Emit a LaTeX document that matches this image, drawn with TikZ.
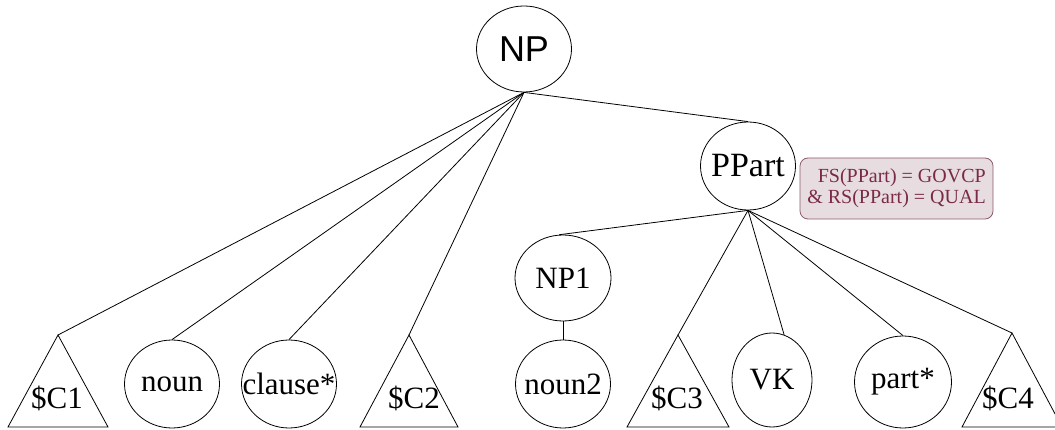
\documentclass[tikz,border=0pt]{standalone}
\usepackage{fontspec}
\setmainfont{Liberation Serif}
\newfontfamily\labelsans{Liberation Sans}
\usetikzlibrary{shapes.geometric}
\definecolor{notefill}{HTML}{E7DDE0}
\definecolor{noteline}{HTML}{8C5A6B}
\definecolor{notetext}{HTML}{7A2A48}
% zero-width text box, so a long label never widens its ellipse
\newcommand{\ztext}[1]{\makebox[0pt][c]{#1}}
\tikzset{
  cat/.style={draw, ellipse, line width=0.8pt, inner sep=0pt,
              minimum width=95pt, minimum height=88pt,
              font=\fontsize{31}{31}\selectfont},
  branch/.style={line width=0.8pt},
  tri/.style={draw, line width=0.8pt, line join=miter},
  trilabel/.style={inner sep=0pt, font=\fontsize{31}{31}\selectfont},
  note/.style={draw=noteline, fill=notefill, rounded corners=8pt, line width=0.8pt,
               text=notetext, align=right, inner sep=4pt,
               minimum width=193pt, minimum height=61pt,
               font=\fontsize{20}{21}\selectfont}
}
\begin{document}
\begin{tikzpicture}[x=1pt,y=-1pt]
\useasboundingbox (0,0) rectangle (1055,430);

% phrase nodes
\node[cat, minimum height=86pt, font=\labelsans\fontsize{36}{36}\selectfont] (np) at (524,49) {\ztext{NP}};
\node[cat, font=\fontsize{34}{34}\selectfont] (ppart) at (748,166) {\ztext{PPart}};
\node[cat, minimum width=96pt, minimum height=86pt] (np1) at (563,278) {\ztext{NP1}};

% leaves
\node[cat] (noun) at (172,384) {\ztext{noun}};
\node[cat] (clause) at (289,384) {\ztext{clause*}};
\node[cat] (noun2) at (563,384) {\ztext{noun2}};
\node[cat, minimum width=80pt, minimum height=94pt] (vk) at (772,380) {\ztext{VK}};
\node[cat, minimum width=97pt, minimum height=92pt] (part) at (903,382) {\ztext{part*}};

% constituent triangles: apex coordinate, outline and label
\coordinate (c1) at (58,335);
\coordinate (c2) at (409,335);
\coordinate (c3) at (678,335);
\coordinate (c4) at (1012,333);
\draw[tri] (c1) -- ++(-50,92) -- ++(100,0) -- cycle;
\draw[tri] (c2) -- ++(-49,92) -- ++(98,0) -- cycle;
\draw[tri] (c3) -- ++(-51,92) -- ++(102,0) -- cycle;
\draw[tri] (c4) -- ++(-50,94) -- ++(100,0) -- cycle;
\node[trilabel] (c1l) at (57,398) {\$C1};
\node[trilabel] (c2l) at (414,398) {\$C2};
\node[trilabel] (c3l) at (677,398) {\$C3};
\node[trilabel] (c4l) at (1008,398) {\$C4};

% annotation on PPart
\node[note] (fs) at (896.5,188.5) {FS(PPart) = GOVCP\\\& RS(PPart) = QUAL};

% branches of NP
\draw[branch] (np.south) -- (ppart.north);
\draw[branch] (np.south) -- (c1);
\draw[branch] (np.south) -- (noun.north);
\draw[branch] (np.south) -- (clause.north);
\draw[branch] (np.south) -- (c2);

% branches of PPart
\draw[branch] (ppart.south) -- (np1.95);
\draw[branch] (ppart.south) -- (c3);
\draw[branch] (ppart.south) -- (vk.75);
\draw[branch] (ppart.south) -- (part.north);
\draw[branch] (ppart.south) -- (c4);

% NP1 dominates noun2
\draw[branch] (np1.south) -- (noun2.north);
\end{tikzpicture}
\end{document}
